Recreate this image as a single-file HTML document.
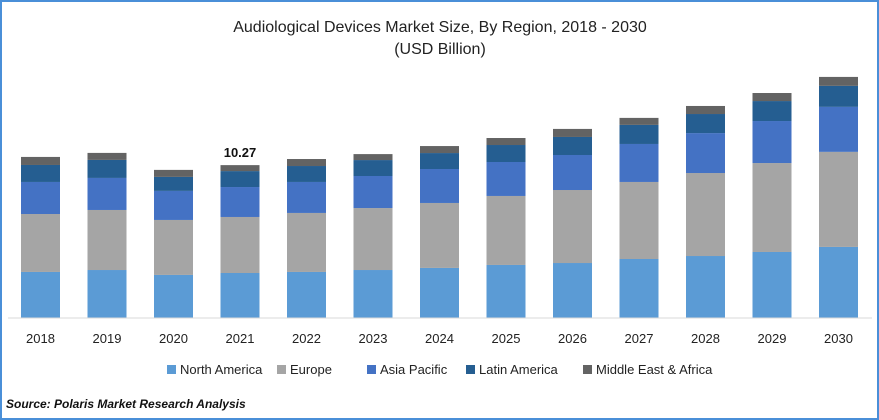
<!DOCTYPE html>
<html><head><meta charset="utf-8"><style>
body{margin:0;background:#fff;font-family:"Liberation Sans",Arial,sans-serif}
#wrap{position:relative;width:879px;height:420px;box-sizing:border-box;border:2px solid #4a8fd8;background:#fff;overflow:hidden}
svg text{font-family:"Liberation Sans",Arial,sans-serif}
</style></head><body>
<div id="wrap">
<svg id="chart" width="875" height="416">
<text x="438" y="30" text-anchor="middle" font-size="16" fill="#222">Audiological Devices Market Size, By Region, 2018 - 2030</text>
<text x="438" y="52" text-anchor="middle" font-size="16" fill="#222">(USD Billion)</text>
<g id="bars"></g>
<line x1="6" x2="870" y1="316" y2="316" stroke="#d9d9d9"/>
<g id="xlabels"></g>
<g id="legend"></g>
<text x="4" y="406" font-size="12" font-weight="bold" font-style="italic" fill="#111">Source: Polaris Market Research Analysis</text>
</svg>
</div>
<script>
const years=["2018","2019","2020","2021","2022","2023","2024","2025","2026","2027","2028","2029","2030"];
const northAmerica=[3.09,3.22,2.89,3.02,3.09,3.22,3.36,3.56,3.69,3.96,4.16,4.43,4.77];
const europe=[3.89,4.03,3.69,3.76,3.96,4.16,4.36,4.63,4.90,5.17,5.57,5.97,6.38];
const asiaPacific=[2.15,2.15,1.95,2.01,2.08,2.15,2.28,2.28,2.35,2.55,2.68,2.82,3.02];
const latinAmerica=[1.14,1.21,0.94,1.07,1.07,1.07,1.07,1.14,1.21,1.28,1.28,1.34,1.41];
const middleEastAfrica=[0.54,0.47,0.47,0.40,0.47,0.40,0.47,0.47,0.54,0.47,0.54,0.54,0.60];
const seriesNames=["North America","Europe","Asia Pacific","Latin America","Middle East & Africa"];
const labelYear="2021";
const labelValue="10.27";
const series=[northAmerica,europe,asiaPacific,latinAmerica,middleEastAfrica];
const colors=["#5b9bd5","#a5a5a5","#4472c4","#255e91","#636363"];
const NS="http://www.w3.org/2000/svg";
const base=316, pxPer=14.9, x0=38.5, step=66.5, bw=39;
const xS=i=>x0+i*step;
const yS=v=>base-v*pxPer;
const bars=document.getElementById('bars');
const xl=document.getElementById('xlabels');
years.forEach((yr,i)=>{
  let cum=0;
  series.forEach((s,k)=>{
    const r=document.createElementNS(NS,'rect');
    r.setAttribute('x',xS(i)-bw/2);
    r.setAttribute('y',yS(cum+s[i]));
    r.setAttribute('width',bw);
    r.setAttribute('height',s[i]*pxPer);
    r.setAttribute('fill',colors[k]);
    
    
    bars.appendChild(r);
    cum+=s[i];
  });
  if(yr===labelYear){
    const t=document.createElementNS(NS,'text');
    t.setAttribute('x',xS(i));t.setAttribute('y',yS(cum)-8);
    t.setAttribute('text-anchor','middle');t.setAttribute('font-size','13');t.setAttribute('font-weight','bold');t.setAttribute('fill','#111');
    t.textContent=labelValue;
    
    
    bars.appendChild(t);
  }
  const t=document.createElementNS(NS,'text');
  t.setAttribute('x',xS(i));t.setAttribute('y',341);
  t.setAttribute('text-anchor','middle');t.setAttribute('font-size','13');t.setAttribute('fill','#222');
  t.textContent=yr;
  
  
  xl.appendChild(t);
});
const lg=document.getElementById('legend');
const lx=[165,275,365,464,581];
seriesNames.forEach((n,k)=>{
  const g=document.createElementNS(NS,'g');
  
  
  const r=document.createElementNS(NS,'rect');
  r.setAttribute('x',lx[k]);r.setAttribute('y',363);r.setAttribute('width',9);r.setAttribute('height',9);r.setAttribute('fill',colors[k]);
  g.appendChild(r);
  const t=document.createElementNS(NS,'text');
  t.setAttribute('x',lx[k]+13);t.setAttribute('y',372);t.setAttribute('font-size','13');t.setAttribute('fill','#222');
  t.textContent=n;
  g.appendChild(t);
  lg.appendChild(g);
});
</script>
</body></html>
